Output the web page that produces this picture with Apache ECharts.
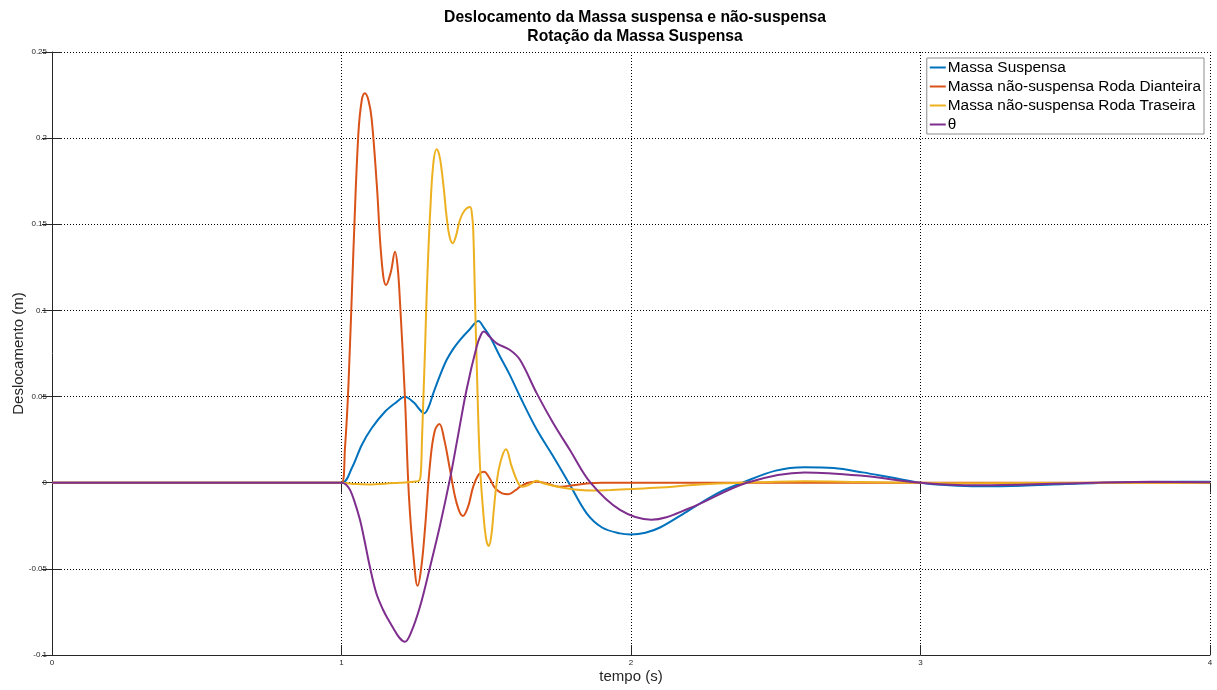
<!DOCTYPE html>
<html>
<head>
<meta charset="utf-8">
<script src="https://cdn.jsdelivr.net/npm/echarts@6/dist/echarts.min.js"></script>
<style>
html,body{margin:0;padding:0;background:#fff;}
#chart{width:1217px;height:690px;}
</style>
</head>
<body>
<div id="chart"></div>
<script>
// ---- Data ----
var titleLines = ['Deslocamento da Massa suspensa e não-suspensa', 'Rotação da Massa Suspensa'];
var seriesNames = ['Massa Suspensa', 'Massa não-suspensa Roda Dianteira', 'Massa não-suspensa Roda Traseira', 'θ'];
var xTicks = [0, 1, 2, 3, 4];
var yTicks = [-0.1, -0.05, 0, 0.05, 0.1, 0.15, 0.2, 0.25];

var tSusp = [0, 1.0, 1.035, 1.07, 1.104, 1.15, 1.19, 1.219, 1.25, 1.27, 1.286, 1.30, 1.317, 1.34, 1.363, 1.386, 1.409, 1.44, 1.473, 1.49, 1.513, 1.548, 1.58, 1.617, 1.674, 1.732, 1.785, 1.847, 1.9, 1.962, 2.0, 2.05, 2.1, 2.2, 2.3, 2.385, 2.5, 2.6, 2.7, 2.8, 2.9, 3.0, 3.1, 3.2, 3.35, 3.5, 3.7, 3.9, 4.0];
var ySusp = [0, 0, 0.0083, 0.0219, 0.0316, 0.0412, 0.0468, 0.0499, 0.0465, 0.0425, 0.0403, 0.0435, 0.0519, 0.0622, 0.0712, 0.0777, 0.0828, 0.0885, 0.0939, 0.0905, 0.0847, 0.0731, 0.063, 0.0499, 0.031, 0.0151, 0.0, -0.0178, -0.026, -0.0294, -0.030, -0.029, -0.026, -0.016, -0.006, 0.0, 0.007, 0.009, 0.0085, 0.006, 0.003, 0.0, -0.0015, -0.0021, -0.0018, -0.0008, 0.0003, 0.0006, 0.0005];

var tDiant = [0, 1.0, 1.012, 1.024, 1.041, 1.058, 1.07, 1.081, 1.093, 1.104, 1.122, 1.139, 1.154, 1.17, 1.185, 1.194, 1.202, 1.219, 1.233, 1.25, 1.263, 1.275, 1.288, 1.306, 1.322, 1.338, 1.355, 1.375, 1.398, 1.419, 1.437, 1.455, 1.475, 1.492, 1.51, 1.53, 1.555, 1.576, 1.6, 1.617, 1.645, 1.674, 1.71, 1.755, 1.8, 1.847, 1.9, 2.0, 3.0, 4.0];
var yDiant = [0, 0, 0.02, 0.0567, 0.134, 0.2018, 0.222, 0.226, 0.222, 0.2115, 0.1728, 0.1283, 0.1147, 0.122, 0.134, 0.125, 0.105, 0.05, -0.008, -0.045, -0.0598, -0.050, -0.0275, 0.0113, 0.030, 0.0341, 0.025, 0.0074, -0.012, -0.0193, -0.014, -0.0023, 0.005, 0.0064, 0.003, -0.003, -0.0062, -0.0067, -0.0045, -0.0023, 0.0, 0.0006, -0.0005, -0.0023, -0.0015, -0.0004, 0, 0, 0, 0];

var tTras = [0, 1.0, 1.05, 1.1, 1.15, 1.2, 1.25, 1.268, 1.274, 1.278, 1.283, 1.289, 1.294, 1.300, 1.306, 1.317, 1.329, 1.338, 1.346, 1.355, 1.363, 1.373, 1.384, 1.395, 1.409, 1.425, 1.444, 1.451, 1.455, 1.461, 1.467, 1.478, 1.49, 1.50, 1.509, 1.518, 1.525, 1.536, 1.548, 1.568, 1.588, 1.611, 1.626, 1.65, 1.674, 1.7, 1.75, 1.8, 1.863, 1.93, 2.0, 2.1, 2.2, 2.3, 2.38, 2.5, 2.6, 2.8, 3.0, 3.2, 3.5, 4.0];
var yTras = [0, 0, -0.0008, -0.001, -0.0006, 0.0, 0.0006, 0.0012, 0.006, 0.025, 0.05, 0.08, 0.108, 0.134, 0.156, 0.185, 0.1935, 0.19, 0.1815, 0.168, 0.1544, 0.143, 0.139, 0.143, 0.1525, 0.158, 0.16, 0.155, 0.1467, 0.108, 0.0693, 0.0113, -0.0178, -0.033, -0.0367, -0.030, -0.0178, 0.0, 0.0113, 0.0194, 0.0093, -0.0004, -0.0023, -0.001, 0.0012, -0.0005, -0.0025, -0.0038, -0.0045, -0.0042, -0.0037, -0.0028, -0.0015, -0.0005, 0.0, 0.0006, 0.0008, 0.0004, 0.0, -0.0003, -0.0001, 0];

var tTheta = [0, 1.0, 1.015, 1.029, 1.045, 1.064, 1.08, 1.098, 1.12, 1.144, 1.16, 1.179, 1.2, 1.219, 1.24, 1.271, 1.306, 1.34, 1.375, 1.40, 1.432, 1.467, 1.482, 1.492, 1.51, 1.536, 1.582, 1.617, 1.674, 1.73, 1.789, 1.86, 1.962, 2.07, 2.2, 2.4, 2.6, 2.8, 3.0, 3.2, 3.5, 3.8, 4.0];
var yTheta = [0, 0, -0.001, -0.004, -0.011, -0.0217, -0.034, -0.0488, -0.064, -0.0739, -0.079, -0.0845, -0.090, -0.0923, -0.087, -0.072, -0.0488, -0.025, 0.0025, 0.025, 0.054, 0.079, 0.086, 0.0877, 0.085, 0.0809, 0.077, 0.0712, 0.052, 0.035, 0.019, 0.0, -0.0158, -0.0215, -0.015, 0.0, 0.006, 0.004, 0.0, -0.0015, -0.0005, 0.0005, 0.0003];

var colors = ['#0072BD', '#D95319', '#EDB120', '#7E2F8E'];

function pairs(t, y) { return t.map(function (v, i) { return [v, y[i]]; }); }
var seriesData = [pairs(tSusp, ySusp), pairs(tDiant, yDiant), pairs(tTras, yTras), pairs(tTheta, yTheta)];
var smoothness = [0.35, 0.4, 0.4, 0.35];

var FONT = '"Liberation Sans", Arial, sans-serif';
var chart = echarts.init(document.getElementById('chart'), null, {renderer: 'canvas'});

function fmt(v) {
  var r = Math.round(v * 1000) / 1000;
  return String(r);
}

var option = {
  animation: false,
  backgroundColor: '#fff',
  color: colors,
  title: {
    text: titleLines.join('\n'),
    left: 630, textAlign: 'center', top: 3,
    textStyle: {fontFamily: FONT, fontSize: 15.7, fontWeight: 'bold', color: '#000', lineHeight: 19}
  },
  legend: {
    orient: 'vertical', right: 13, top: 58,
    data: seriesNames,
    backgroundColor: '#fff', borderColor: '#8c8c8c', borderWidth: 1,
    padding: [1, 3, 1, 3], itemGap: 2,
    itemWidth: 16, itemHeight: 2, icon: 'rect',
    textStyle: {fontFamily: FONT, fontSize: 15.4, color: '#000', lineHeight: 17, padding: [0, 0, 0, -3]}
  },
  grid: {left: 52, right: 7, top: 52, bottom: 35, containLabel: false, outerBoundsMode: 'none'},
  xAxis: [{
    type: 'value', min: 0, max: 4, interval: 1,
    name: 'tempo (s)', nameLocation: 'middle', nameGap: 14, nameMoveOverlap: false,
    nameTextStyle: {fontFamily: FONT, fontSize: 15, color: '#262626'},
    axisLine: {show: true, onZero: false, lineStyle: {color: '#262626', width: 1}},
    axisTick: {show: true, inside: true, length: 10, lineStyle: {color: '#262626'}},
    axisLabel: {fontFamily: FONT, fontSize: 8, color: '#262626', margin: 4, formatter: fmt},
    splitLine: {show: true, lineStyle: {color: '#000', type: [1, 2], width: 1}}
  }, {
    type: 'value', min: 0, max: 4, interval: 1, position: 'top',
    axisLine: {show: false},
    axisTick: {show: true, inside: true, length: 10, lineStyle: {color: '#262626'}},
    axisLabel: {show: false}, splitLine: {show: false}
  }],
  yAxis: [{
    type: 'value', min: -0.1, max: 0.25, interval: 0.05,
    name: 'Deslocamento (m)', nameLocation: 'middle', nameGap: 26, nameMoveOverlap: false,
    nameTextStyle: {fontFamily: FONT, fontSize: 15, color: '#262626'},
    axisLine: {show: true, onZero: false, lineStyle: {color: '#262626', width: 1}},
    axisTick: {show: true, inside: true, length: 10, lineStyle: {color: '#262626'}},
    axisLabel: {fontFamily: FONT, fontSize: 8, color: '#262626', margin: 5, formatter: fmt},
    splitLine: {show: true, lineStyle: {color: '#000', type: [1, 2], width: 1}}
  }, {
    type: 'value', min: -0.1, max: 0.25, interval: 0.05, position: 'right',
    axisLine: {show: false},
    axisTick: {show: true, inside: true, length: 10, lineStyle: {color: '#262626'}},
    axisLabel: {show: false}, splitLine: {show: false}
  }],
  series: seriesNames.map(function (n, i) {
    return {
      name: n, type: 'line', data: seriesData[i],
      xAxisIndex: 0, yAxisIndex: 0,
      showSymbol: false, smooth: smoothness[i],
      lineStyle: {width: 2, color: colors[i]},
      itemStyle: {color: colors[i]},
      z: 3 + i
    };
  })
};
chart.setOption(option);
</script>
</body>
</html>
